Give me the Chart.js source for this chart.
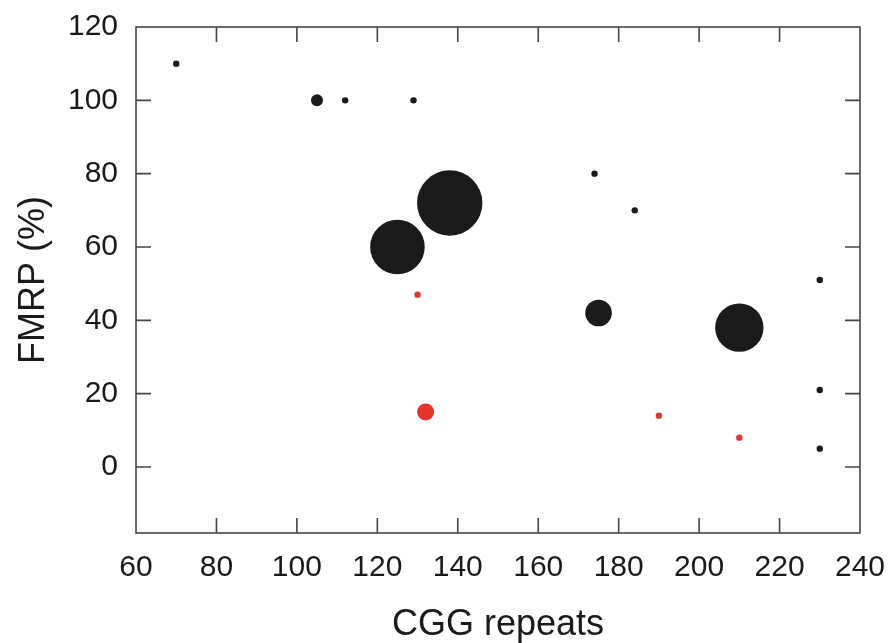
<!DOCTYPE html>
<html>
<head>
<meta charset="utf-8">
<script src="https://cdn.jsdelivr.net/npm/chart.js@4/dist/chart.umd.min.js"></script>
<style>
  html, body { margin: 0; padding: 0; background: #ffffff; }
  #wrap { width: 891px; height: 643px; }
</style>
</head>
<body>
<div id="wrap"><canvas id="c" width="891" height="643"></canvas></div>
<script>
// Carriers with FMRP measured, grouped by marker colour
const blackRepeats = [70, 105, 112, 129, 125, 138, 174, 184, 175, 210, 230, 230, 230];
const blackFmrp    = [110, 100, 100, 100, 60, 72, 80, 70, 42, 38, 51, 21, 5];
const blackSize    = [3.2, 6, 3.2, 3.2, 27.3, 32.7, 3.2, 3.2, 13.3, 24.2, 3.2, 3.2, 3.2];

const redRepeats = [130, 132, 190, 210];
const redFmrp    = [47, 15, 14, 8];
const redSize    = [3.2, 8.5, 3.2, 3.2];

const xTicks = [60, 80, 100, 120, 140, 160, 180, 200, 220, 240];
const yTicks = [0, 20, 40, 60, 80, 100, 120];

const toPoints = (xs, ys, rs) => xs.map((x, i) => ({ x: x, y: ys[i], r: rs[i] }));

// Box frame with short inward tick marks on all four sides
const frameTicks = {
  id: 'frameTicks',
  afterDatasetsDraw(chart) {
    const { ctx, chartArea: a, scales } = chart;
    const len = 15;
    ctx.save();
    ctx.strokeStyle = '#454545';
    ctx.lineWidth = 1.6;
    ctx.strokeRect(a.left, a.top, a.right - a.left, a.bottom - a.top);
    ctx.beginPath();
    xTicks.forEach(v => {
      const px = scales.x.getPixelForValue(v);
      if (px <= a.left + 1 || px >= a.right - 1) return;
      ctx.moveTo(px, a.bottom); ctx.lineTo(px, a.bottom - len);
      ctx.moveTo(px, a.top); ctx.lineTo(px, a.top + len);
    });
    yTicks.forEach(v => {
      const py = scales.y.getPixelForValue(v);
      if (py <= a.top + 1 || py >= a.bottom - 1) return;
      ctx.moveTo(a.left, py); ctx.lineTo(a.left + len, py);
      ctx.moveTo(a.right, py); ctx.lineTo(a.right - len, py);
    });
    ctx.stroke();
    ctx.restore();
  }
};

new Chart(document.getElementById('c'), {
  type: 'bubble',
  data: {
    datasets: [
      {
        data: toPoints(blackRepeats, blackFmrp, blackSize),
        backgroundColor: '#1a1a1a',
        borderWidth: 0,
        hoverBorderWidth: 0
      },
      {
        data: toPoints(redRepeats, redFmrp, redSize),
        backgroundColor: '#e5332d',
        borderWidth: 0,
        hoverBorderWidth: 0
      }
    ]
  },
  options: {
    responsive: false,
    animation: false,
    events: [],
    layout: { autoPadding: false, padding: { top: 27, right: 31, left: 0, bottom: 0 } },
    plugins: { legend: { display: false }, tooltip: { enabled: false } },
    scales: {
      x: {
        type: 'linear',
        min: 60,
        max: 240,
        grid: { display: false, drawTicks: false },
        border: { display: false },
        afterBuildTicks: s => { s.ticks = xTicks.map(v => ({ value: v })); },
        afterFit: s => { s.height = 110; s.paddingLeft = 0; s.paddingRight = 0; },
        ticks: {
          padding: 17,
          color: '#1a1a1a',
          font: { family: '"Liberation Sans", Arial, sans-serif', size: 30 }
        },
        title: {
          display: true,
          text: 'CGG repeats',
          color: '#1a1a1a',
          padding: { top: 0, bottom: 0 },
          font: { family: '"Liberation Sans", Arial, sans-serif', size: 36, lineHeight: 1.0 }
        }
      },
      y: {
        type: 'linear',
        min: -18,
        max: 120,
        grid: { display: false, drawTicks: false },
        border: { display: false },
        afterBuildTicks: s => { s.ticks = yTicks.map(v => ({ value: v })); },
        afterFit: s => { s.width = 136; s.paddingTop = 0; s.paddingBottom = 0; },
        ticks: {
          padding: 18,
          color: '#1a1a1a',
          font: { family: '"Liberation Sans", Arial, sans-serif', size: 30 }
        },
        title: {
          display: true,
          text: 'FMRP (%)',
          color: '#1a1a1a',
          padding: { top: 12, bottom: 0 },
          font: { family: '"Liberation Sans", Arial, sans-serif', size: 36 }
        }
      }
    }
  },
  plugins: [frameTicks]
});
</script>
</body>
</html>
